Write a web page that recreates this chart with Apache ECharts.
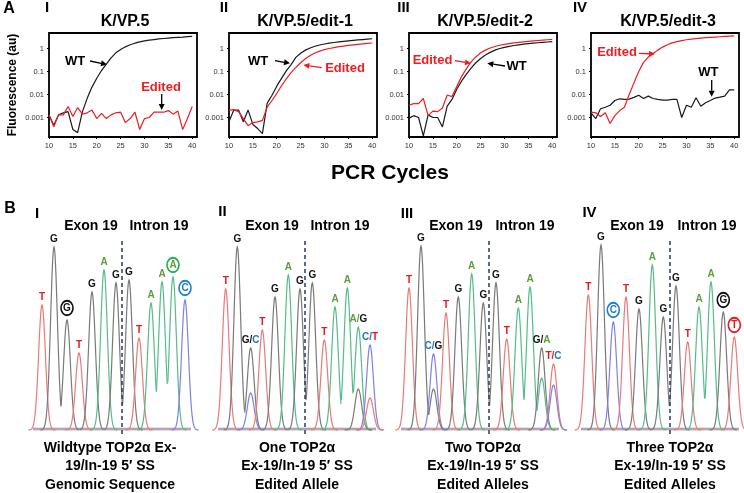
<!DOCTYPE html>
<html><head><meta charset="utf-8">
<script src="https://cdn.jsdelivr.net/npm/echarts@6/dist/echarts.min.js"></script>
<style>html,body{margin:0;padding:0;background:#fff}#c{width:744px;height:493px}</style>
</head><body><div id="c"></div>
<script>
// ---------- Panel A data (qPCR curves) ----------
const cycles = [10,11,12,13,14,15,16,17,18,19,20,21,22,23,24,25,26,27,28,29,30,31,32,33,34,35,36,37,38,39,40];
const wt1 = [0.0013,0.00046,0.0013,0.0016,0.0018,0.0003,0.00022,0.0018,0.0068,0.021,0.051,0.11,0.21,0.39,0.65,0.9,1.18,1.45,1.7,1.95,2.15,2.3,2.45,2.6,2.72,2.84,2.95,3.05,3.15,3.3,3.4];
const ed1 = [0.0013,0.0004,0.0013,0.0013,0.003,0.0011,0.0027,0.0014,0.0016,0.0021,0.0009,0.0015,0.0009,0.0013,0.0016,0.0017,0.0006,0.0009,0.0017,0.0003,0.0009,0.001,0.0017,0.0017,0.0017,0.002,0.0014,0.0019,0.0003,0.0009,0.003];
const wt2 = [0.00065,0.0021,0.0021,0.00065,0.0021,0.0005,0.00033,0.0002,0.0042,0.0093,0.023,0.05,0.107,0.2,0.41,0.62,0.85,1.05,1.25,1.42,1.57,1.7,1.82,1.95,2.05,2.15,2.25,2.35,2.45,2.55,2.65];
const ed2 = [0.0021,0.0022,0.0018,0.0009,0.00044,0.0006,0.00065,0.00075,0.0028,0.0055,0.011,0.024,0.048,0.09,0.15,0.24,0.36,0.5,0.64,0.77,0.9,1.0,1.1,1.2,1.28,1.36,1.44,1.52,1.6,1.67,1.73];
const wt3 = [0.00094,0.0012,0.001,0.00016,0.0013,0.001,0.001,0.00039,0.0031,0.0061,0.017,0.038,0.075,0.14,0.24,0.37,0.52,0.68,0.85,1.0,1.12,1.24,1.35,1.45,1.54,1.62,1.7,1.78,1.85,1.92,1.98];
const ed3 = [0.0034,0.004,0.004,0.0067,0.0012,0.0019,0.0018,0.0026,0.0095,0.0081,0.022,0.06,0.13,0.26,0.43,0.65,0.85,1.05,1.22,1.38,1.52,1.64,1.76,1.86,1.96,2.05,2.14,2.23,2.32,2.4,2.48];
const wt4 = [0.0016,0.0009,0.0024,0.0028,0.0034,0.0055,0.0065,0.0061,0.0063,0.0075,0.0093,0.0067,0.0085,0.0067,0.0061,0.0057,0.0057,0.0061,0.0061,0.001,0.0034,0.0028,0.0072,0.0031,0.0044,0.0055,0.007,0.0077,0.0085,0.016,0.016];
const ed4 = [0.0017,0.0016,0.0011,0.0016,0.00055,0.0012,0.002,0.0028,0.01,0.032,0.1,0.25,0.42,0.6,0.85,1.15,1.45,1.75,2.0,2.2,2.4,2.55,2.7,2.85,2.95,3.05,3.15,3.25,3.35,3.45,3.55];
const titlesA = ['K/VP.5','K/VP.5/edit-1','K/VP.5/edit-2','K/VP.5/edit-3'];
const yTickLabels = ['0.001','0.01','0.1','1'];

// ---------- Panel B data (chromatogram peaks) ----------
const seqPos1 = [12,24,37,49,62,74,86,99,109,121,132,143,155];
const seqBase1 = ['T','G','G','T','G','A','G','G','T','A','A','A','C'];
const seqHeight1 = [125,183,110,77,138,160,147,150,92,127,148,153,130];
const seqMinor1 = [null,null,null,null,null,null,null,null,null,null,null,null,null];
const seqMinorH1 = [0,0,0,0,0,0,0,0,0,0,0,0,0];
const seqCircled1 = [0,0,1,0,0,0,0,0,0,0,0,1,1];
const split1 = 92;

const seqPos2 = [10.7,22.3,35.7,47.3,60,73.3,85,97.3,109.3,120,132.3,143.3,155];
const seqBase2 = ['T','G','G','T','G','A','G','G','T','A','A','A','C'];
const seqHeight2 = [141,183,82,100,133,155,141,147,90,123,142,103,85];
const seqMinor2 = [null,null,'C',null,null,null,null,null,null,null,null,'G','T'];
const seqMinorH2 = [0,0,37,0,0,0,0,0,0,0,0,41,32];
const seqCircled2 = [0,0,0,0,0,0,0,0,0,0,0,0,0];
const split2 = 90;

const seqPos3 = [11,23,35.5,48,60.3,73.7,85.3,98,108.7,120.3,132,143.7,155.5];
const seqBase3 = ['T','G','C','T','G','A','G','G','T','A','A','G','T'];
const seqHeight3 = [142,184,76,117,133,156,127,147,91,122,143,82,66];
const seqMinor3 = [null,null,'G',null,null,null,null,null,null,null,null,'A','C'];
const seqMinorH3 = [0,0,41,0,0,0,0,0,0,0,0,52,45];
const seqCircled3 = [0,0,0,0,0,0,0,0,0,0,0,0,0];
const split3 = 91;

const seqPos4 = [10.3,23,35.3,48,61,74.3,85.3,98,109.7,121,133,145.3,156.3];
const seqBase4 = ['T','G','C','T','G','A','G','G','T','A','A','G','T'];
const seqHeight4 = [135,185,108,133,121,165,113,144,88,123,148,118,93];
const seqMinor4 = [null,null,null,null,null,null,null,null,null,null,null,null,null];
const seqMinorH4 = [0,0,0,0,0,0,0,0,0,0,0,0,0];
const seqCircled4 = [0,0,1,0,0,0,0,0,0,0,0,1,1];
const split4 = 92;

const exonLabel = 'Exon 19', intronLabel = 'Intron 19';
const captions = [
  ['Wildtype TOP2α Ex-','19/In-19 5′ SS','Genomic Sequence'],
  ['One TOP2α','Ex-19/In-19 5′ SS','Edited Allele'],
  ['Two TOP2α','Ex-19/In-19 5′ SS','Edited Alleles'],
  ['Three TOP2α','Ex-19/In-19 5′ SS','Edited Alleles']
];
const numerals = ['I','II','III','IV'];

// ---------- styling ----------
const FONT = '"Liberation Sans", Arial, sans-serif';
const BASES = ['T','G','A','C'];
const TRACE = {T:'#e97b78', G:'#7a7a7a', A:'#55bd8a', C:'#8080e6'};
const TXT = {T:'#e3191f', G:'#111111', A:'#5e9c3c', C:'#1f78c8'};
const RING = {T:'#e3191f', G:'#111111', A:'#1fae4b', C:'#1f7fd0'};
const RED = '#ee1d23';

const chart = echarts.init(document.getElementById('c'), null, {renderer:'canvas'});

const gridsA = [49,229,409,591].map(l => ({left:l, top:33, width:148, height:104, show:true, borderColor:'#000', borderWidth:1.8, backgroundColor:'transparent'}));
const gridsB = [30,215,398,578].map(l => ({left:l, top:240, width:165, height:194, show:false}));

const xAxes = [], yAxes = [], series = [];
gridsA.forEach((g,i) => {
  xAxes.push({type:'value', gridIndex:i, min:10, max:41, interval:5,
    axisLine:{show:false}, splitLine:{show:false},
    axisTick:{show:true, length:2, lineStyle:{color:'#000'}},
    axisLabel:{fontSize:7.5, color:'#333', fontFamily:FONT, margin:5, showMaxLabel:false, interval:0}});
  yAxes.push({type:'log', gridIndex:i, min:0.000142, max:4.72, logBase:10,
    axisLine:{show:false}, splitLine:{show:false},
    axisTick:{show:true, length:2, lineStyle:{color:'#000'}},
    axisLabel:{fontSize:7.5, color:'#333', fontFamily:FONT, margin:5, showMinLabel:false, showMaxLabel:false,
      formatter: v => { const e = Math.round(Math.log10(v)); return (e>=-3 && e<=0 && Math.abs(Math.log10(v)-e)<0.01) ? yTickLabels[e+3] : ''; }}});
});
gridsB.forEach((g,i) => {
  xAxes.push({type:'value', gridIndex:4+i, min:0, max:165, show:false});
  yAxes.push({type:'value', gridIndex:4+i, min:-4, max:190, show:false});
});

const curves = [[wt1,ed1],[wt2,ed2],[wt3,ed3],[wt4,ed4]];
curves.forEach((pair,i) => {
  series.push({type:'line', xAxisIndex:i, yAxisIndex:i, data:cycles.map((c,k)=>[c,pair[0][k]]), showSymbol:false, symbol:'none', lineStyle:{color:'#1a1a1a', width:1.2}, animation:false, silent:true});
  series.push({type:'line', xAxisIndex:i, yAxisIndex:i, data:cycles.map((c,k)=>[c,pair[1][k]]), showSymbol:false, symbol:'none', lineStyle:{color:RED, width:1.2}, animation:false, silent:true});
});

const panelsB = [
  [seqPos1,seqBase1,seqHeight1,seqMinor1,seqMinorH1,seqCircled1,split1],
  [seqPos2,seqBase2,seqHeight2,seqMinor2,seqMinorH2,seqCircled2,split2],
  [seqPos3,seqBase3,seqHeight3,seqMinor3,seqMinorH3,seqCircled3,split3],
  [seqPos4,seqBase4,seqHeight4,seqMinor4,seqMinorH4,seqCircled4,split4]
];
const SIG = 3.4;
const rich = {};
BASES.forEach(b => { rich[b] = {fill:TXT[b], color:TXT[b], font:'bold 10px '+FONT}; });

panelsB.forEach((P,pi) => {
  const [pos,base,height,minor,minorH,circ,split] = P;
  const gi = 4+pi;
  const peaks = [];
  pos.forEach((p,i) => {
    peaks.push([p, height[i], BASES.indexOf(base[i]), 0, i]);
    if (minor[i]) peaks.push([p, minorH[i], BASES.indexOf(minor[i]), 1, i]);
  });
  // baselines + split line
  series.push({type:'custom', xAxisIndex:gi, yAxisIndex:gi, data:[[3,0],[161,0]], silent:true, animation:false,
    renderItem(params, api) {
      if (params.dataIndex !== 0) return null;
      const x0 = api.value(0);
      const x1 = 161;
      const offs = [['A',1.2],['C',0.6],['T',0],['G',1.8]];
      return {type:'group', children: offs.map(([b,o]) => ({type:'line',
        shape:{x1:api.coord([x0,o])[0], y1:api.coord([x0,o])[1], x2:api.coord([x1,o])[0], y2:api.coord([x1,o])[1]},
        style:{stroke:TRACE[b], lineWidth:0.8, opacity:0.8}}))};
    },
    markLine:{silent:true, symbol:['none','none'], animation:false, label:{show:false},
      lineStyle:{color:'#2b3866', type:[4,3], width:1.5}, data:[{xAxis:split}]}
  });
  // peaks
  series.push({type:'custom', xAxisIndex:gi, yAxisIndex:gi, data:peaks, silent:true, animation:false,
    renderItem(params, api) {
      const p = api.value(0), h = api.value(1), b = api.value(2);
      const self = peaks[params.dataIndex];
      const pts = [];
      for (let x = p-4*SIG; x <= p+4*SIG+1e-6; x += 0.4) {
        const v = h*Math.exp(-(x-p)*(x-p)/(2*SIG*SIG));
        let keep = true;
        for (const q of peaks) {
          if (q !== self && q[2] === b) {
            const w = q[1]*Math.exp(-(x-q[0])*(x-q[0])/(2*SIG*SIG));
            if (w > v) { keep = false; break; }
          }
        }
        if (keep) pts.push(api.coord([x, v]));
      }
      return {type:'polyline', shape:{points:pts}, style:{stroke:TRACE[BASES[b]], lineWidth:1.2, fill:'none'}};
    }
  });
  // labels
  series.push({type:'custom', xAxisIndex:gi, yAxisIndex:gi, data:pos.map((p,i)=>[p,height[i],i]), silent:true, animation:false, z:5,
    renderItem(params, api) {
      const i = api.value(2);
      const c = api.coord([api.value(0), api.value(1)]);
      const b = base[i], m = minor[i];
      const text = m ? `{${b}|${b}/}{${m}|${m}}` : `{${b}|${b}}`;
      const isC = circ[i] === 1;
      const cy = c[1] - (isC ? 12 : 8);
      const children = [{type:'text', x:c[0], y:cy, style:{text, rich, align:'center', verticalAlign:'middle', font:'bold 10px '+FONT}}];
      if (isC) children.push({type:'circle', x:c[0], y:cy, scaleY:1.22, shape:{cx:0, cy:0, r:6}, style:{fill:'none', stroke:RING[b], lineWidth:1.6}});
      return {type:'group', children};
    }
  });
});

// ---------- graphic texts ----------
function txt(x,y,s,size,color,extra) {
  return Object.assign({type:'text', x, y, silent:true, style:{text:s, fill:color, font:`bold ${size}px ${FONT}`, align:'center', verticalAlign:'middle', textAlign:'center', textVerticalAlign:'middle'}}, extra||{});
}
function arrow(x1,y1,x2,y2,color) {
  const a = Math.atan2(y2-y1, x2-x1), L = 6, W = 3;
  const bx = x2 - L*Math.cos(a), by = y2 - L*Math.sin(a);
  return [
    {type:'line', silent:true, shape:{x1,y1,x2:bx,y2:by}, style:{stroke:color, lineWidth:1.3}},
    {type:'polygon', silent:true, shape:{points:[[x2,y2],[bx+W*Math.sin(a), by-W*Math.cos(a)],[bx-W*Math.sin(a), by+W*Math.cos(a)]]}, style:{fill:color}}
  ];
}
const G = [];
G.push(txt(9,9,'A',16,'#000'));
[[47,8],[224,8],[403.5,8],[580,8]].forEach((p,i)=>G.push(txt(p[0],p[1],numerals[i],15,'#000')));
[125,305,485,668].forEach((x,i)=>G.push(txt(x,21.5,titlesA[i],16,'#000')));
G.push(txt(13,85,'Fluorescence (au)',12,'#000',{rotation:Math.PI/2}));
G.push(txt(390,173,'PCR Cycles',21,'#000'));
// annotations A
G.push(txt(75,61,'WT',13,'#000')); G.push(...arrow(90,61,107,64.5,'#000'));
G.push(txt(161,87,'Edited',13,RED)); G.push(...arrow(161.7,94,161.7,110,'#000'));
G.push(txt(258,61,'WT',13,'#000')); G.push(...arrow(275,60.7,290,63.3,'#000'));
G.push(txt(345,68,'Edited',13,RED)); G.push(...arrow(321.7,67.7,303.3,65,RED));
G.push(txt(432.5,60,'Edited',13,RED)); G.push(...arrow(455,60.7,471,63.3,RED));
G.push(txt(516.7,66,'WT',13,'#000')); G.push(...arrow(505,66,487.3,63.3,'#000'));
G.push(txt(617,52.7,'Edited',13,RED)); G.push(...arrow(639,53.3,655,54,RED));
G.push(txt(708.3,72.7,'WT',13,'#000')); G.push(...arrow(711.7,80,711.7,96.7,'#000'));
// panel B texts
G.push(txt(10,209,'B',16,'#000'));
[[37,214],[222.5,212],[407,214],[589.5,213]].forEach((p,i)=>G.push(txt(p[0],p[1],numerals[i],15,'#000')));
[91,272,456,637].forEach(x=>G.push(txt(x,226,exonLabel,14,'#000')));
[159,340,525,707].forEach(x=>G.push(txt(x,226,intronLabel,14,'#000')));
[110,297,483,670].forEach((x,i)=>captions[i].forEach((s,k)=>G.push(txt(x,448+k*18.5,s,14,'#000'))));

chart.setOption({
  animation:false,
  backgroundColor:'#fff',
  grid:[...gridsA, ...gridsB],
  xAxis:xAxes, yAxis:yAxes, series,
  graphic:{elements:G}
});
</script></body></html>
